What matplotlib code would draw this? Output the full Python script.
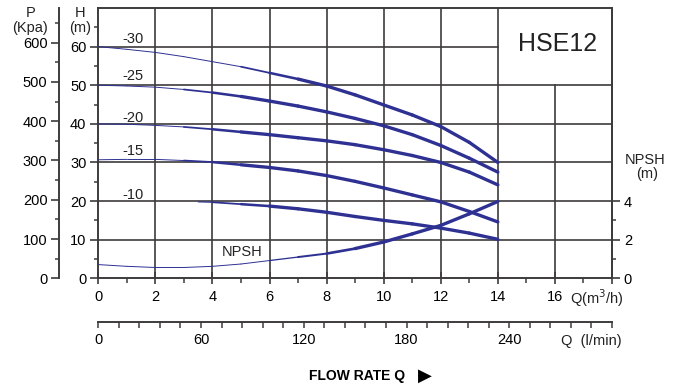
import numpy as np
import matplotlib
matplotlib.use("Agg")
import matplotlib.pyplot as plt
from matplotlib.collections import LineCollection

plt.rcParams['font.family'] = ['Liberation Sans', 'DejaVu Sans']

# flow rate in m3/h
q = [0, 1, 2, 3, 4, 5, 6, 7, 8, 9, 10, 11, 12, 13, 14]
# head curves (m) for the five pump stages
h_30 = [60, 59.3, 58.5, 57.4, 56.1, 54.8, 53.2, 51.6, 49.8, 47.5, 44.9, 42.3, 39.3, 35.2, 30.0]
h_25 = [50, 49.8, 49.5, 48.9, 48.1, 47.1, 45.9, 44.6, 43.1, 41.4, 39.5, 37.2, 34.4, 31.1, 27.5]
h_20 = [40, 39.9, 39.6, 39.2, 38.6, 37.9, 37.2, 36.4, 35.6, 34.6, 33.3, 31.8, 30.0, 27.5, 24.2]
h_15 = [30.7, 30.8, 30.8, 30.5, 30.1, 29.4, 28.7, 27.8, 26.6, 25.1, 23.4, 21.6, 19.8, 17.3, 14.6]
q_10 = [3.5, 4, 5, 6, 7, 8, 9, 10, 11, 12, 13, 14]
h_10 = [19.8, 19.7, 19.2, 18.7, 18.0, 17.1, 16.0, 15.0, 14.1, 13.0, 11.7, 10.1]
# NPSH (m)
npsh = [0.71, 0.62, 0.56, 0.56, 0.62, 0.74, 0.92, 1.10, 1.28, 1.54, 1.88, 2.30, 2.74, 3.34, 3.98]

curve_labels = ['-30', '-25', '-20', '-15', '-10']
label_h = [62.0, 52.4, 41.5, 32.9, 21.5]

x_major = [0, 2, 4, 6, 8, 10, 12, 14, 16, 18]
x_labels = ['0', '2', '4', '6', '8', '10', '12', '14', '16', '']
h_major = [0, 10, 20, 30, 40, 50, 60]
h_minor = [5, 15, 25, 35, 45, 55, 65]
p_major = [0, 100, 200, 300, 400, 500, 600]
p_minor = [50, 150, 250, 350, 450, 550, 650]
n_major = [0, 2, 4]
n_minor = [1, 3]
lmin_major = [0, 60, 120, 180, 240]
lmin_minor = list(range(0, 301, 12))

BLUE = '#2e3192'
GRID = '#3d3b3b'
W, H = 678, 389


def tapered(axis, xs, ys, a, b, thin=0.7, thick=2.4):
    xs = np.asarray(xs, float)
    ys = np.asarray(ys, float)
    pts = np.column_stack([xs, ys])
    segs = np.stack([pts[:-1], pts[1:]], axis=1)
    mid = (xs[:-1] + xs[1:]) / 2
    f = np.clip((mid - a) / (b - a), 0, 1)
    lc = LineCollection(segs, linewidths=thin + (thick - thin) * f,
                        colors=BLUE, capstyle='round', joinstyle='round', zorder=5)
    axis.add_collection(lc)


def px(x, y):
    return x / W, 1 - y / H


fig = plt.figure(figsize=(W / 100, H / 100), dpi=100)
L, R, B, T = 98.3, 612, 278.3, 8
ax = fig.add_axes([L / W, 1 - B / H, (R - L) / W, (B - T) / H])
ax.set_xlim(0, 18)
ax.set_ylim(0, 70)

# grid, with the box for the model name left open
for h in h_major[1:6]:
    ax.plot([0, 18], [h, h], color=GRID, lw=1.2, zorder=1)
ax.plot([0, 14], [60, 60], color=GRID, lw=1.2, zorder=1)
for x in x_major[1:8]:
    ax.plot([x, x], [0, 70], color=GRID, lw=1.2, zorder=1)
ax.plot([16, 16], [0, 50], color=GRID, lw=1.2, zorder=1)

for s in ax.spines.values():
    s.set_color(GRID)
    s.set_linewidth(1.4)

ax.set_xticks(x_major)
ax.set_xticklabels(x_labels)
ax.set_xticks(list(range(1, 18, 2)), minor=True)
ax.tick_params(axis='x', which='major', direction='inout', length=9, width=1.2,
               color=GRID, labelsize=10.5, pad=4)
ax.tick_params(axis='x', which='minor', direction='out', length=3.5, width=1.1, color=GRID)
ax.set_yticks(h_major)
ax.set_yticks(h_minor, minor=True)
ax.tick_params(axis='y', which='major', direction='out', length=6, width=1.2,
               color=GRID, labelsize=10.5, pad=2.5)
ax.tick_params(axis='y', which='minor', direction='out', length=3, width=1.1, color=GRID)

tapered(ax, q, h_30, 4.5, 7.5)
tapered(ax, q, h_25, 2.5, 5.5)
tapered(ax, q, h_20, 2.5, 5.5)
tapered(ax, q, h_15, 2.5, 5.5)
tapered(ax, q_10, h_10, 3.5, 6.5)

for lab, y in zip(curve_labels, label_h):
    ax.text(1.2, y, lab, ha='center', va='center', fontsize=10.5, color='#222222')
ax.text(5.05, 6.7, 'NPSH', ha='center', va='center', fontsize=10.5, color='#222222')
ax.text(16.1, 60.7, 'HSE12', ha='center', va='center', fontsize=18, color='#222222')

# NPSH axis on the right
axn = ax.twinx()
axn.set_ylim(0, 14)
for k in ['left', 'top', 'bottom']:
    axn.spines[k].set_visible(False)
axn.spines['right'].set_color(GRID)
axn.spines['right'].set_linewidth(1.4)
axn.set_yticks(n_major)
axn.set_yticks(n_minor, minor=True)
axn.tick_params(axis='y', which='major', direction='out', length=5.5, width=1.2,
                color=GRID, labelsize=10.5, pad=3)
axn.tick_params(axis='y', which='minor', direction='out', length=3, width=1.1, color=GRID)
tapered(axn, q, npsh, 6, 9.5)

# pressure axis on the far left
axp = ax.twinx()
axp.set_ylim(0, 688)
for k in ['right', 'top', 'bottom']:
    axp.spines[k].set_visible(False)
axp.spines['left'].set_visible(True)
axp.spines['left'].set_position(('axes', (59.3 - L) / (R - L)))
axp.spines['left'].set_color(GRID)
axp.spines['left'].set_linewidth(1.4)
axp.yaxis.set_ticks_position('left')
axp.yaxis.set_label_position('left')
axp.set_yticks(p_major)
axp.set_yticks(p_minor, minor=True)
axp.tick_params(axis='y', which='major', direction='out', length=6, width=1.2,
                color=GRID, labelsize=10.5, pad=2.5)
axp.tick_params(axis='y', which='minor', direction='out', length=3, width=1.1, color=GRID)

# flow axis in l/min
axq = fig.add_axes([L / W, 1 - 322 / H, (R - L) / W, 0.0001])
axq.set_xlim(0, 300)
axq.set_yticks([])
for k in ['left', 'right', 'top']:
    axq.spines[k].set_visible(False)
axq.spines['bottom'].set_color(GRID)
axq.spines['bottom'].set_linewidth(1.4)
axq.patch.set_visible(False)
axq.set_xticks(lmin_major)
axq.set_xticks(lmin_minor, minor=True)
axq.tick_params(axis='x', which='both', direction='out', length=4, width=1.1,
                color=GRID, labelsize=10.5, pad=4)

tc = '#222222'
fig.text(*px(31, 13), 'P', ha='center', va='center', fontsize=10.5, color=tc)
fig.text(*px(30, 28), '(Kpa)', ha='center', va='center', fontsize=10.5, color=tc)
fig.text(*px(80, 13), 'H', ha='center', va='center', fontsize=10.5, color=tc)
fig.text(*px(80, 28), '(m)', ha='center', va='center', fontsize=10.5, color=tc)
fig.text(*px(645, 160), 'NPSH', ha='center', va='center', fontsize=10.5, color=tc)
fig.text(*px(647, 174), '(m)', ha='center', va='center', fontsize=10.5, color=tc)
fig.text(*px(570, 298), 'Q(m$^3$/h)', ha='left', va='center', fontsize=10.5, color=tc)
fig.text(*px(561, 341), 'Q  (l/min)', ha='left', va='center', fontsize=10.5, color=tc)
fig.text(*px(309, 376), 'FLOW RATE Q', ha='left', va='center', fontsize=10,
         fontweight='bold', color='black')
fig.text(*px(425, 376), '\u25b6', ha='center', va='center', fontsize=13,
         family=['DejaVu Sans'], color='black')

fig.savefig('out.png', dpi=100)
